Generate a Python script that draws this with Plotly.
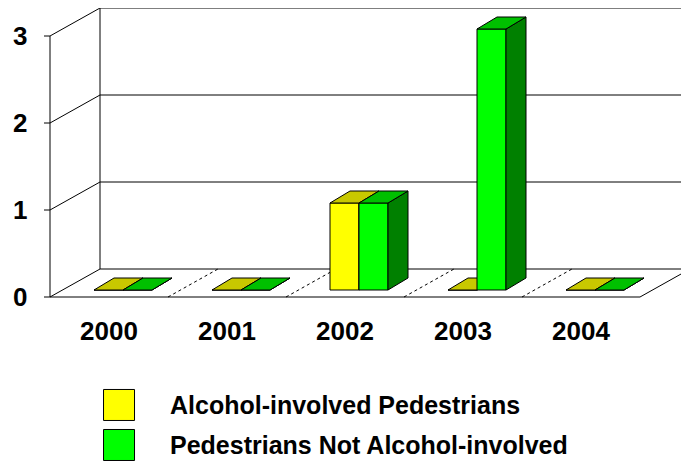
import plotly.graph_objects as go

years = ["2000", "2001", "2002", "2003", "2004"]
alcohol = [0, 0, 1, 0, 0]
not_alcohol = [0, 0, 1, 3, 0]
series_names = ["Alcohol-involved Pedestrians", "Pedestrians Not Alcohol-involved"]
y_ticks = [0, 1, 2, 3]

PXX, PXY = 118.0, 87.0
WDX, WDY = 50 / PXX, 28 / PXY      # wall depth
BDX, BDY = 20 / PXX, 12 / PXY      # bar depth
BW = 29 / PXX
BZ = 7 / PXY                        # bars sit slightly back from floor front
X0, X1 = -0.5, 4.5
YTOP = 3
FONT = "Liberation Sans, Arial"

fig = go.Figure()

def poly(xs, ys, fill, line="black", width=1, dash=None):
    fig.add_trace(go.Scatter(x=xs + [xs[0]], y=ys + [ys[0]], mode="lines",
                             fill="toself" if fill else None, fillcolor=fill,
                             line=dict(color=line, width=width, dash=dash),
                             hoverinfo="skip", showlegend=False))

def line(xs, ys, color="black", width=1, dash=None):
    fig.add_trace(go.Scatter(x=xs, y=ys, mode="lines",
                             line=dict(color=color, width=width, dash=dash),
                             hoverinfo="skip", showlegend=False))

line([X0 + WDX, X0 + WDX], [WDY, YTOP + WDY])
line([X0, X0], [0, YTOP])
for t in y_ticks[1:]:
    line([X0, X0 + WDX, X1 + WDX + 0.1], [t, t + WDY, t + WDY])
for t in y_ticks:
    line([X0 - 6 / PXX, X0], [t, t])
poly([X0, X1, X1 + WDX, X0 + WDX], [0, 0, WDY, WDY], "white")
for i in range(len(years) - 1):
    b = i + 0.5
    line([b, b + WDX], [0, WDY], dash="dot")

def bar(left, v, front, side, top):
    r = left + BW
    b0, v = BZ, v + BZ
    poly([left, r, r, left], [b0, b0, v, v], front)
    poly([r, r + BDX, r + BDX, r], [b0, b0 + BDY, v + BDY, v], side)
    poly([left, r, r + BDX, left + BDX], [v, v, v + BDY, v + BDY], top)

for i in range(len(years)):
    bar(i - 0.127, alcohol[i], "#ffff00", "#999900", "#c8c800")
    bar(i - 0.127 + BW, not_alcohol[i], "#00ff00", "#008000", "#00c000")

ann = []
for i, y in enumerate(years):
    ann.append(dict(x=i, y=-0.39, text="<b>%s</b>" % y, showarrow=False,
                    font=dict(size=26, family=FONT, color="black")))
for t in y_ticks:
    ann.append(dict(x=-0.754, y=t, text="<b>%d</b>" % t, showarrow=False,
                    font=dict(size=26, family=FONT, color="black")))

ly = [-1.241, -1.701]
for name, col, yy in zip(series_names, ["#ffff00", "#00ff00"], ly):
    fig.add_trace(go.Scatter(x=[0.085], y=[yy], mode="markers",
                             marker=dict(symbol="square", size=31, color=col,
                                         line=dict(color="black", width=1)),
                             hoverinfo="skip", showlegend=False))
    ann.append(dict(x=0.50, y=yy, text="<b>%s</b>" % name, showarrow=False, xanchor="left",
                    font=dict(size=25, family=FONT, color="black")))

fig.update_layout(
    width=689, height=467, margin=dict(l=0, r=0, t=0, b=0),
    plot_bgcolor="white", paper_bgcolor="white", annotations=ann,
    xaxis=dict(range=[-42 / PXX - 0.5, 647 / PXX - 0.5], visible=False, fixedrange=True),
    yaxis=dict(range=[-178 / PXY, 289 / PXY], visible=False, fixedrange=True),
)
fig.write_html("out.html")
